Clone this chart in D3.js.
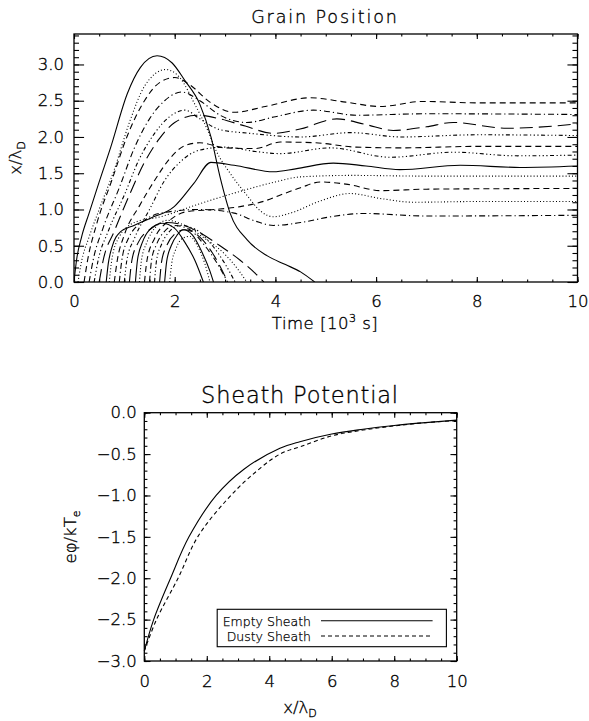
<!DOCTYPE html>
<html><head><meta charset="utf-8">
<script src="https://cdn.jsdelivr.net/npm/d3@7"></script>
<style>body{margin:0;background:#fff} text{font-family:"DejaVu Sans",sans-serif;font-weight:200;fill:#000;stroke:#000;stroke-width:0.35px}</style>
</head><body><svg id="c" width="589" height="721"></svg>
<script>
// ---------- Grain Position data: [time (10^3 s), x/lambda_D] ----------
const grain00 = [[0,0],[0.05,0.3],[0.15,0.62],[0.3,0.95],[0.5,1.38],[0.73,1.86],[1.06,2.6],[1.32,2.96],[1.65,3.12],[1.95,3.02],[2.2,2.78],[2.5,2.45],[2.72,2.0],[2.9,1.45],[3.1,0.95],[3.44,0.58],[3.84,0.36],[4.2,0.24],[4.5,0.14],[4.78,0]];
const grain01 = [[0.08,0],[0.14,0.25],[0.3,0.62],[0.5,1.0],[0.8,1.55],[1.1,2.2],[1.4,2.7],[1.82,2.93],[2.1,2.82],[2.4,2.45],[2.65,2.1],[2.83,1.8],[3.1,1.5],[3.43,1.2],[3.7,0.98],[3.96,0.9],[4.3,0.95],[4.9,1.12],[5.48,1.22],[6.1,1.15],[6.74,1.1],[8,1.11],[10,1.11]];
const grain02 = [[0.2,0],[0.27,0.3],[0.45,0.8],[0.75,1.4],[1.05,2.0],[1.4,2.5],[1.7,2.75],[2.0,2.82],[2.3,2.72],[2.7,2.48],[3.18,2.34],[3.8,2.42],[4.69,2.54],[5.4,2.48],[6.08,2.42],[6.93,2.49],[8,2.47],[10,2.47]];
const grain03 = [[0.3,0],[0.38,0.3],[0.58,0.75],[0.9,1.3],[1.2,1.85],[1.5,2.25],[1.8,2.5],[2.14,2.62],[2.5,2.5],[2.9,2.3],[3.43,2.2],[4.0,2.28],[4.75,2.37],[5.61,2.3],[7,2.32],[10,2.31]];
const grain04 = [[0.4,0],[0.48,0.3],[0.68,0.7],[1.0,1.2],[1.3,1.7],[1.6,2.05],[1.9,2.28],[2.2,2.37],[2.5,2.25],[2.9,2.1],[3.5,2.05],[4.5,2.0],[5.5,2.06],[6.5,2.0],[8,2.03],[10,2.02]];
const grain05 = [[0.5,0],[0.58,0.3],[0.8,0.7],[1.1,1.2],[1.4,1.65],[1.7,1.98],[2.0,2.2],[2.44,2.3],[2.9,2.25],[3.4,2.15],[3.96,2.05],[4.49,2.11],[5.22,2.25],[5.8,2.17],[6.34,2.09],[7.0,2.14],[7.53,2.2],[8.6,2.12],[10,2.18]];
const grain06 = [[0.64,0],[0.68,0.25],[0.75,0.47],[0.92,0.69],[1.19,0.78],[1.52,0.88],[1.99,1.04],[2.38,1.36],[2.72,1.65],[3.18,1.61],[3.96,1.52],[4.4,1.56],[5.15,1.64],[5.8,1.6],[6.47,1.55],[7.67,1.61],[8.86,1.58],[10,1.6]];
const grain07 = [[0.7,0],[0.75,0.3],[0.88,0.6],[1.2,0.82],[1.72,0.9],[2.5,1.08],[3.3,1.25],[4.0,1.38],[4.5,1.45],[5.5,1.47],[7,1.46],[10,1.46]];
const grain08 = [[0.8,0],[0.86,0.3],[1.0,0.65],[1.3,1.05],[1.6,1.4],[1.9,1.7],[2.2,1.88],[2.5,1.92],[3.0,1.85],[3.6,1.84],[4.1,1.93],[4.8,1.92],[5.6,1.86],[6.5,1.85],[8,1.87],[10,1.87]];
const grain09 = [[0.9,0],[0.95,0.3],[1.08,0.6],[1.4,0.85],[1.8,0.96],[2.5,1.0],[3.18,0.95],[3.6,0.84],[3.96,0.78],[4.5,0.82],[5.1,0.9],[5.75,0.945],[7,0.91],[10,0.92]];
const grain10 = [[1.0,0],[1.05,0.3],[1.2,0.6],[1.5,1.0],[1.8,1.4],[2.1,1.65],[2.5,1.82],[3.0,1.86],[3.6,1.8],[4.1,1.77],[5.09,1.85],[6.28,1.72],[7.54,1.79],[8.8,1.74],[10,1.75]];
const grain11 = [[1.1,0],[1.15,0.3],[1.28,0.55],[1.5,0.72],[1.8,0.82],[2.1,0.8],[2.5,0.68],[2.9,0.5],[3.3,0.3],[3.6,0.12],[3.77,0]];
const grain12 = [[1.22,0],[1.26,0.3],[1.36,0.55],[1.5,0.72],[1.75,0.81],[2.0,0.74],[2.2,0.55],[2.4,0.3],[2.57,0]];
const grain13 = [[1.3,0],[1.34,0.3],[1.45,0.55],[1.6,0.74],[1.85,0.85],[2.2,0.78],[2.6,0.6],[3.0,0.38],[3.25,0.18],[3.43,0]];
const grain14 = [[1.4,0],[1.45,0.3],[1.6,0.6],[1.9,0.85],[2.24,0.97],[2.8,1.0],[3.3,1.04],[3.8,1.12],[4.1,1.2],[4.5,1.3],[4.9,1.38],[5.4,1.35],[6.1,1.26],[7,1.28],[10,1.29]];
const grain15 = [[1.5,0],[1.54,0.3],[1.64,0.52],[1.8,0.7],[2.0,0.78],[2.3,0.72],[2.6,0.5],[2.85,0.25],[3.05,0]];
const grain16 = [[1.6,0],[1.64,0.3],[1.74,0.52],[1.9,0.7],[2.1,0.78],[2.4,0.73],[2.75,0.5],[3.0,0.25],[3.2,0]];
const grain17 = [[1.7,0],[1.74,0.28],[1.84,0.5],[2.0,0.66],[2.2,0.72],[2.5,0.62],[2.75,0.4],[2.95,0.15],[3.05,0]];
const grain18 = [[1.8,0],[1.84,0.28],[1.93,0.5],[2.05,0.65],[2.17,0.72],[2.35,0.65],[2.55,0.4],[2.7,0.15],[2.77,0]];
const grain19 = [[1.9,0],[1.94,0.25],[2.02,0.45],[2.15,0.6],[2.3,0.63],[2.45,0.5],[2.6,0.25],[2.7,0]];
const grains = [grain00,grain01,grain02,grain03,grain04,grain05,grain06,grain07,grain08,grain09,
                grain10,grain11,grain12,grain13,grain14,grain15,grain16,grain17,grain18,grain19];

const timeTicks = [0,2,4,6,8,10];
const posTicks = [0,0.5,1.0,1.5,2.0,2.5,3.0];

// ---------- Sheath Potential data ----------
const sheathX     = [0,0.30,0.84,1.43,2.3,3.2,4.34,4.98,6.0,7.0,8.0,9.0,10];
const emptySheath = [-2.88,-2.5,-2.0,-1.5,-1.0,-0.68,-0.43,-0.35,-0.257,-0.2,-0.155,-0.12,-0.09];
const dustyX      = [0,0.39,1.08,1.71,2.6,3.4,4.34,5.0,6.0,7.0,8.0,9.0,10];
const dustySheath = [-2.88,-2.5,-2.0,-1.5,-1.07,-0.77,-0.5,-0.41,-0.28,-0.21,-0.16,-0.12,-0.095];
const potTicks = [0,-0.5,-1.0,-1.5,-2.0,-2.5,-3.0];
const legendLabels = ["Empty Sheath","Dusty Sheath"];

// ---------- drawing ----------
const svg = d3.select("#c");
const dashes = [null,"1,2.2","6,4","6,3,1.2,3","4,2.5,1.2,2.5,1.2,2.5,1.2,2.5","13,6"];

function box(g, x, y, xMaj, xMin, yMaj, yMin, fs, yfmt, padY, padX) {
  const [x0,x1] = x.range(), [y1,y0] = y.range();
  const W = x1-x0, H = y1-y0;
  const xt = 0.02*H, yt = 0.02*W;
  const style = a=>{a.select(".domain").remove();a.selectAll("text").style("font-size",fs+"px");};
  g.append("g").attr("transform",`translate(0,${y1})`)
    .call(d3.axisBottom(x).tickValues(xMaj).tickSize(-xt).tickPadding(padX).tickFormat(d3.format("d"))).call(style);
  g.append("g").attr("transform",`translate(0,${y1})`)
    .call(d3.axisBottom(x).tickValues(xMin).tickSize(-xt/2).tickFormat("")).call(style);
  g.append("g").attr("transform",`translate(0,${y0})`)
    .call(d3.axisTop(x).tickValues(xMaj).tickSize(-xt).tickFormat("")).call(style);
  g.append("g").attr("transform",`translate(0,${y0})`)
    .call(d3.axisTop(x).tickValues(xMin).tickSize(-xt/2).tickFormat("")).call(style);
  g.append("g").attr("transform",`translate(${x0},0)`)
    .call(d3.axisLeft(y).tickValues(yMaj).tickSize(-yt).tickPadding(padY).tickFormat(yfmt)).call(style);
  g.append("g").attr("transform",`translate(${x0},0)`)
    .call(d3.axisLeft(y).tickValues(yMin).tickSize(-yt/2).tickFormat("")).call(style);
  g.append("g").attr("transform",`translate(${x1},0)`)
    .call(d3.axisRight(y).tickValues(yMaj).tickSize(-yt).tickFormat("")).call(style);
  g.append("g").attr("transform",`translate(${x1},0)`)
    .call(d3.axisRight(y).tickValues(yMin).tickSize(-yt/2).tickFormat("")).call(style);
  g.selectAll(".tick line").attr("stroke","#000").attr("stroke-width",1.1);
  g.selectAll(".tick text").attr("fill","#000");
  g.append("rect").attr("x",x0).attr("y",y0).attr("width",W).attr("height",H)
    .attr("fill","none").attr("stroke","#000").attr("stroke-width",1.3);
}
function rangeStep(a,b,s){const r=[];for(let v=a;v<=b+1e-9;v+=s)r.push(+v.toFixed(4));return r;}

// ----- top plot -----
const xT = d3.scaleLinear().domain([0,10]).range([74,577.5]);
const yT = d3.scaleLinear().domain([0,3.42]).range([282,34]);
const gT = svg.append("g");
svg.append("clipPath").attr("id","clipT").append("rect")
  .attr("x",74).attr("y",34).attr("width",503.5).attr("height",248);
const line = d3.line().x(d=>xT(d[0])).y(d=>yT(Math.max(0,d[1]))).curve(d3.curveMonotoneX);
const gl = gT.append("g").attr("clip-path","url(#clipT)");
grains.forEach((g,i)=>{
  gl.append("path").attr("d",line(g)).attr("fill","none").attr("stroke","#000")
    .attr("stroke-width",1.1).attr("stroke-dasharray",dashes[i%6]);
});
box(gT,xT,yT,timeTicks,rangeStep(0,10,0.5),posTicks,rangeStep(0,3.4,0.1),16.5,d3.format(".1f"),10,13);
svg.append("text").attr("x",325).attr("y",22.5).attr("text-anchor","middle").style("font-size","17.5px").style("letter-spacing","1.9px").text("Grain Position");
const xtit = svg.append("text").attr("x",325).attr("y",329).attr("text-anchor","middle").style("font-size","16.5px").style("letter-spacing","0.5px");
xtit.append("tspan").text("Time [10");
xtit.append("tspan").attr("dy",-7).style("font-size","11px").text("3");
xtit.append("tspan").attr("dy",7).text(" s]");
const ytit = svg.append("text").attr("transform","translate(21,158) rotate(-90)").attr("text-anchor","middle").style("font-size","16.5px");
ytit.append("tspan").text("x/λ");
ytit.append("tspan").attr("dy",4).style("font-size","11px").text("D");

// ----- bottom plot -----
const xB = d3.scaleLinear().domain([0,10]).range([144.3,456.7]);
const yB = d3.scaleLinear().domain([-3,0]).range([661,412.7]);
const gB = svg.append("g");
const lineB = d3.line().x(d=>xB(d[0])).y(d=>yB(d[1])).curve(d3.curveCatmullRom.alpha(0.5));
gB.append("path").attr("d",lineB(sheathX.map((v,i)=>[v,emptySheath[i]]))).attr("fill","none").attr("stroke","#000").attr("stroke-width",1.1);
gB.append("path").attr("d",lineB(dustyX.map((v,i)=>[v,dustySheath[i]]))).attr("fill","none").attr("stroke","#000").attr("stroke-width",1.1).attr("stroke-dasharray","4,3");
box(gB,xB,yB,timeTicks,rangeStep(0,10,0.5),potTicks,rangeStep(-3,0,0.1),16.5,d3.format(".1f"),7.5,14);
svg.append("text").attr("x",300).attr("y",402.5).attr("text-anchor","middle").style("font-size","22.5px").style("letter-spacing","0.8px").text("Sheath Potential");
const xtb = svg.append("text").attr("x",300).attr("y",713).attr("text-anchor","middle").style("font-size","16.5px");
xtb.append("tspan").text("x/λ");
xtb.append("tspan").attr("dy",4).style("font-size","11px").text("D");
const ytb = svg.append("text").attr("transform","translate(76,537) rotate(-90)").attr("text-anchor","middle").style("font-size","16.5px");
ytb.append("tspan").text("eφ/kT");
ytb.append("tspan").attr("dy",4).style("font-size","11px").text("e");

// legend
const lg = svg.append("g");
lg.append("rect").attr("x",217.2).attr("y",609.3).attr("width",229.2).attr("height",37.4).attr("fill","#fff").attr("stroke","#000").attr("stroke-width",1.1);
legendLabels.forEach((t,i)=>{
  lg.append("text").attr("x",311).attr("y",625.5+i*15.3).attr("text-anchor","end").style("font-size","12.5px").style("stroke-width","0.25px").text(t);
  lg.append("line").attr("x1",321).attr("x2",i?430:432.6).attr("y1",620.7+i*15.3).attr("y2",620.7+i*15.3)
    .attr("stroke","#000").attr("stroke-width",1.1).attr("stroke-dasharray",i?"4,3":null);
});
</script></body></html>
